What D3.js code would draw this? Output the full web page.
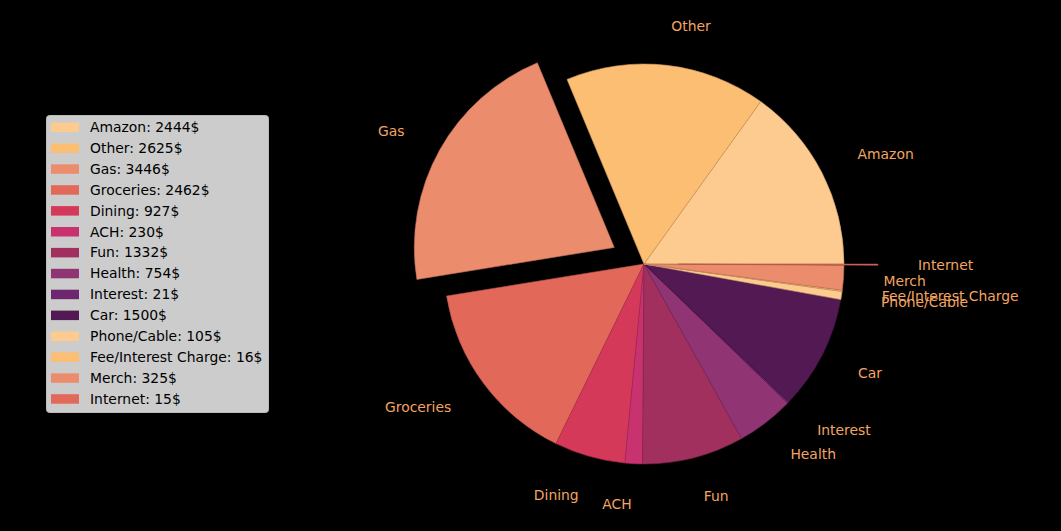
<!DOCTYPE html>
<html>
<head>
<meta charset="utf-8">
<script src="https://cdn.jsdelivr.net/npm/d3@7"></script>
<style>
  html, body { margin: 0; padding: 0; background: #000; }
  svg { display: block; font-family: "DejaVu Sans", sans-serif; }
</style>
</head>
<body>
<div id="chart"></div>
<script>
var svgWidth = 1061;
var svgHeight = 531;

// Spending categories and amounts ($)
var categories = ["Amazon", "Other", "Gas", "Groceries", "Dining", "ACH", "Fun", "Health",
  "Interest", "Car", "Phone/Cable", "Fee/Interest Charge", "Merch", "Internet"];
var amounts = [2444, 2625, 3446, 2462, 927, 230, 1332, 754, 21, 1500, 105, 16, 325, 15];
var explode = [0, 0, 0.17, 0, 0, 0, 0, 0, 0, 0, 0, 0, 0, 0.17];

// palette (10 colours, cycled)
var palette = ["#fdca8f", "#fcbe73", "#eb8d6c", "#e2695a", "#d5395a",
  "#c8326f", "#a1305f", "#903473", "#6e266e", "#531952"];

var cx = 644, cy = 264, radius = 200;

var svg = d3.select("#chart")
  .append("svg")
  .attr("width", svgWidth)
  .attr("height", svgHeight);

svg.append("rect")
  .attr("width", svgWidth)
  .attr("height", svgHeight)
  .attr("fill", "#000");

var data = categories.map(function(c, i) {
  return { name: c, value: amounts[i], explode: explode[i], color: palette[i % palette.length] };
});

// start at 3 o'clock, go counter-clockwise (like matplotlib)
var pie = d3.pie()
  .sort(null)
  .value(d => d.value)
  .startAngle(Math.PI / 2)
  .endAngle(Math.PI / 2 - 2 * Math.PI);

var arc = d3.arc().innerRadius(0).outerRadius(radius);

var arcs = pie(data);

var pieGroup = svg.append("g")
  .attr("transform", `translate(${cx}, ${cy})`);

var slices = pieGroup.selectAll("g.slice")
  .data(arcs)
  .enter()
  .append("g")
  .attr("class", "slice")
  .attr("transform", function(d) {
    var a = (d.startAngle + d.endAngle) / 2;
    var off = d.data.explode * radius;
    return `translate(${Math.sin(a) * off}, ${-Math.cos(a) * off})`;
  });

slices.append("path")
  .attr("d", arc)
  .attr("fill", d => d.data.color)
  .attr("stroke", d => d3.color(d.data.color).darker(0.6))
  .attr("stroke-width", 0.6)
  .attr("stroke-linejoin", "round");

// Slice labels
slices.append("text")
  .attr("x", function(d) {
    var a = (d.startAngle + d.endAngle) / 2;
    return Math.sin(a) * radius * 1.2;
  })
  .attr("y", function(d) {
    var a = (d.startAngle + d.endAngle) / 2;
    return -Math.cos(a) * radius * 1.2;
  })
  .attr("dy", "0.36em")
  .attr("text-anchor", function(d) {
    var a = (d.startAngle + d.endAngle) / 2;
    return Math.sin(a) >= 0 ? "start" : "end";
  })
  .attr("fill", "#f4a460")
  .style("font-size", "13.9px")
  .text(d => d.data.name);

// Legend
var legend = svg.append("g")
  .attr("transform", "translate(46, 115)");

legend.append("rect")
  .attr("x", 0.5)
  .attr("y", 0.5)
  .attr("width", 222)
  .attr("height", 297)
  .attr("rx", 3)
  .attr("fill", "#cccccc")
  .attr("stroke", "#bdbdbd");

var rowH = 20.9;
var items = legend.selectAll("g.item")
  .data(data)
  .enter()
  .append("g")
  .attr("class", "item")
  .attr("transform", (d, i) => `translate(0, ${12 + i * rowH})`);

items.append("rect")
  .attr("x", 5)
  .attr("y", -4.5)
  .attr("width", 28)
  .attr("height", 9.5)
  .attr("fill", d => d.color);

items.append("text")
  .attr("x", 44)
  .attr("y", 0)
  .attr("dy", "0.36em")
  .attr("fill", "#000")
  .style("font-size", "13.9px")
  .text(d => `${d.name}: ${d.value}$`);
</script>
</body>
</html>
